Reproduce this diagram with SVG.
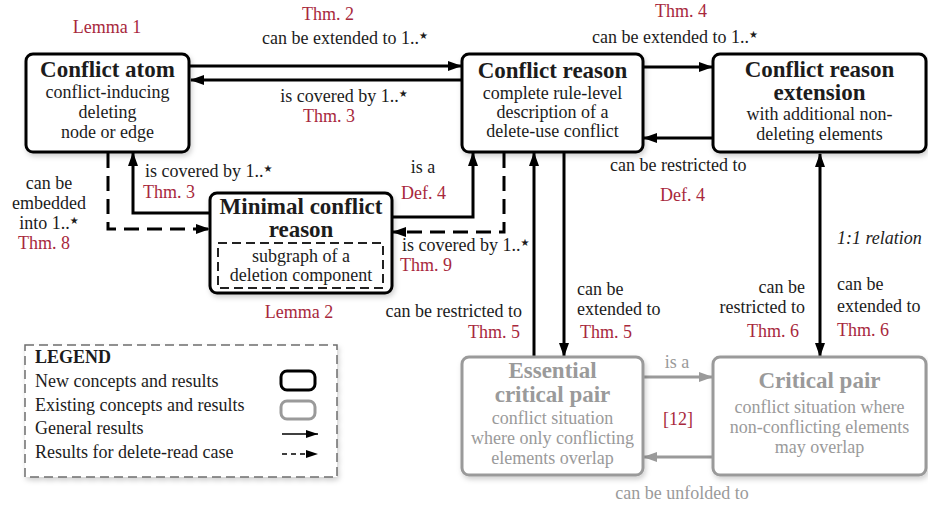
<svg xmlns="http://www.w3.org/2000/svg" width="928" height="508" viewBox="0 0 928 508">
  <style>
    text { font-family: "Liberation Serif", "DejaVu Serif", serif; font-size: 18px; fill: #1c1c1c; }
    .t { font-weight: bold; font-size: 23px; }
    .ref { fill: #a8283c; }
    .gt { fill: #9a9a9a; }
    .mid { text-anchor: middle; }
    .end { text-anchor: end; }
    .star { font-family: "DejaVu Sans", sans-serif; font-size: 10px; }
    .box { fill: #fff; stroke: #000; stroke-width: 3; filter: url(#shadow); }
    .old { fill: #fff; stroke: #9a9a9a; stroke-width: 3; filter: url(#shadow); }
    .inner { fill: none; stroke: #222; stroke-width: 2; stroke-dasharray: 9 5; }
    .c { fill: none; stroke: #000; stroke-width: 3; }
    .dash { stroke-dasharray: 15 8; }
    .gc { fill: none; stroke: #9a9a9a; stroke-width: 3; }
  </style>
  <defs>
    <filter id="shadow" x="-10%" y="-10%" width="125%" height="130%">
      <feDropShadow dx="1.5" dy="3" stdDeviation="2.5" flood-color="#000" flood-opacity="0.18"/>
    </filter>
    <marker id="ah" viewBox="0 0 14 10" refX="13" refY="5" markerWidth="14" markerHeight="10" orient="auto-start-reverse" markerUnits="userSpaceOnUse">
      <path d="M0,0 L14,5 L0,10 z" fill="#000"/>
    </marker>
    <marker id="ahg" viewBox="0 0 14 10" refX="13" refY="5" markerWidth="14" markerHeight="10" orient="auto-start-reverse" markerUnits="userSpaceOnUse">
      <path d="M0,0 L14,5 L0,10 z" fill="#9a9a9a"/>
    </marker>
    <marker id="ahs" viewBox="0 0 12 8" refX="12" refY="4" markerWidth="12" markerHeight="8" orient="auto" markerUnits="userSpaceOnUse">
      <path d="M0,0 L12,4 L0,8 z" fill="#000"/>
    </marker>
  </defs>

  <!-- connectors -->
  <g id="connectors">
    <path class="c" d="M190,66 H461" marker-end="url(#ah)"/>
    <path class="c" d="M462,80 H191" marker-end="url(#ah)"/>
    <path class="c" d="M643,67 H712" marker-end="url(#ah)"/>
    <path class="c" d="M713,138 H644" marker-end="url(#ah)"/>
    <path class="c" d="M210,213 H133 V153" marker-end="url(#ah)"/>
    <path class="c dash" d="M108,153 V229 H209" marker-end="url(#ah)"/>
    <path class="c" d="M392,217 H473 V153" marker-end="url(#ah)"/>
    <path class="c dash" d="M504,153 V232 H393" marker-end="url(#ah)"/>
    <path class="c" d="M534,357 V153" marker-end="url(#ah)"/>
    <path class="c" d="M564,153 V356" marker-end="url(#ah)"/>
    <path class="c" d="M820,154 V356" marker-start="url(#ah)" marker-end="url(#ah)"/>
    <path class="gc" d="M643,377 H712" marker-end="url(#ahg)"/>
    <path class="gc" d="M713,457 H644" marker-end="url(#ahg)"/>
  </g>

  <!-- edge labels -->
  <g id="labels">
    <text class="ref mid" x="107" y="33">Lemma 1</text>
    <text class="ref mid" x="328" y="20">Thm. 2</text>
    <text class="mid" x="345" y="44">can be extended to 1..<tspan class="star" dy="-5">★</tspan></text>
    <text class="mid" x="344" y="102">is covered by 1..<tspan class="star" dy="-5">★</tspan></text>
    <text class="ref mid" x="329" y="122">Thm. 3</text>
    <text class="ref mid" x="681" y="17">Thm. 4</text>
    <text class="mid" x="675" y="43">can be extended to 1..<tspan class="star" dy="-5">★</tspan></text>
    <text x="610" y="171">can be restricted to</text>
    <text class="ref" x="660" y="201">Def. 4</text>
    <text x="145" y="177">is covered by 1..<tspan class="star" dy="-5">★</tspan></text>
    <text class="ref" x="143" y="198">Thm. 3</text>
    <text class="mid" x="49" y="189">can be</text>
    <text class="mid" x="49" y="209">embedded</text>
    <text class="mid" x="49" y="229">into 1..<tspan class="star" dy="-5">★</tspan></text>
    <text class="ref mid" x="44" y="249">Thm. 8</text>
    <text class="mid" x="423" y="173">is a</text>
    <text class="ref" x="401" y="199">Def. 4</text>
    <text x="402" y="251">is covered by 1..<tspan class="star" dy="-5">★</tspan></text>
    <text class="ref" x="400" y="271">Thm. 9</text>
    <text class="ref mid" x="299" y="318">Lemma 2</text>
    <text class="end" x="522" y="317">can be restricted to</text>
    <text class="ref end" x="520" y="338">Thm. 5</text>
    <text x="577" y="295">can be</text>
    <text x="577" y="315">extended to</text>
    <text class="ref" x="580" y="338">Thm. 5</text>
    <text x="837" y="244" font-style="italic" font-size="16">1:1 relation</text>
    <text class="end" x="805" y="293">can be</text>
    <text class="end" x="805" y="313">restricted to</text>
    <text class="ref end" x="799" y="337">Thm. 6</text>
    <text x="837" y="290">can be</text>
    <text x="837" y="312">extended to</text>
    <text class="ref" x="837" y="336">Thm. 6</text>
    <text class="gt mid" x="677" y="368">is a</text>
    <text class="ref mid" x="678" y="425">[12]</text>
    <text class="gt mid" x="682" y="499">can be unfolded to</text>
  </g>

  <!-- nodes -->
  <g id="conflict-atom">
    <rect class="box" x="26" y="54" width="163" height="98" rx="7"/>
    <text class="t mid" x="107.5" y="77">Conflict atom</text>
    <text class="mid" x="107.5" y="98">conflict-inducing</text>
    <text class="mid" x="107.5" y="118">deleting</text>
    <text class="mid" x="107.5" y="138">node or edge</text>
  </g>

  <g id="conflict-reason">
    <rect class="box" x="462" y="54" width="181" height="98" rx="7"/>
    <text class="t mid" x="552.5" y="78">Conflict reason</text>
    <text class="mid" x="552.5" y="99">complete rule-level</text>
    <text class="mid" x="552.5" y="118">description of a</text>
    <text class="mid" x="552.5" y="137">delete-use conflict</text>
  </g>

  <g id="conflict-reason-extension">
    <rect class="box" x="713" y="54" width="213" height="98" rx="7"/>
    <text class="t mid" x="819.5" y="77">Conflict reason</text>
    <text class="t mid" x="819.5" y="100">extension</text>
    <text class="mid" x="819.5" y="120">with additional non-</text>
    <text class="mid" x="819.5" y="140">deleting elements</text>
  </g>

  <g id="minimal-conflict-reason">
    <rect class="box" x="210" y="193" width="182" height="100" rx="7"/>
    <text class="t mid" x="301" y="214">Minimal conflict</text>
    <text class="t mid" x="301" y="237">reason</text>
    <rect class="inner" x="218" y="243" width="165" height="45"/>
    <text class="mid" x="301" y="262">subgraph of a</text>
    <text class="mid" x="301" y="281">deletion component</text>
  </g>

  <g id="essential-critical-pair">
    <rect class="old" x="462" y="357" width="181" height="118" rx="7"/>
    <text class="t gt mid" x="552.5" y="378">Essential</text>
    <text class="t gt mid" x="552.5" y="402">critical pair</text>
    <text class="gt mid" x="552.5" y="424">conflict situation</text>
    <text class="gt mid" x="552.5" y="444">where only conflicting</text>
    <text class="gt mid" x="552.5" y="464">elements overlap</text>
  </g>

  <g id="critical-pair">
    <rect class="old" x="713" y="357" width="213" height="118" rx="7"/>
    <text class="t gt mid" x="819.5" y="388">Critical pair</text>
    <text class="gt mid" x="819.5" y="413">conflict situation where</text>
    <text class="gt mid" x="819.5" y="433">non-conflicting elements</text>
    <text class="gt mid" x="819.5" y="453">may overlap</text>
  </g>

  <!-- legend -->
  <g id="legend">
    <rect x="25" y="345" width="312" height="132" fill="#fff" stroke="#6e6e6e" stroke-width="1.5" stroke-dasharray="9 5" filter="url(#shadow)"/>
    <text x="35" y="363" font-weight="bold">LEGEND</text>
    <text x="35" y="387">New concepts and results</text>
    <text x="35" y="411">Existing concepts and results</text>
    <text x="35" y="434">General results</text>
    <text x="35" y="458">Results for delete-read case</text>
    <rect x="281" y="371" width="34" height="19" rx="6" fill="#fff" stroke="#000" stroke-width="3"/>
    <rect x="281" y="401" width="34" height="18" rx="6" fill="#fff" stroke="#9a9a9a" stroke-width="3"/>
    <path d="M282,434 H318" stroke="#000" stroke-width="1.5" marker-end="url(#ahs)"/>
    <path d="M282,454 H318" stroke="#000" stroke-width="1.5" stroke-dasharray="5 4" marker-end="url(#ahs)"/>
  </g>
</svg>
